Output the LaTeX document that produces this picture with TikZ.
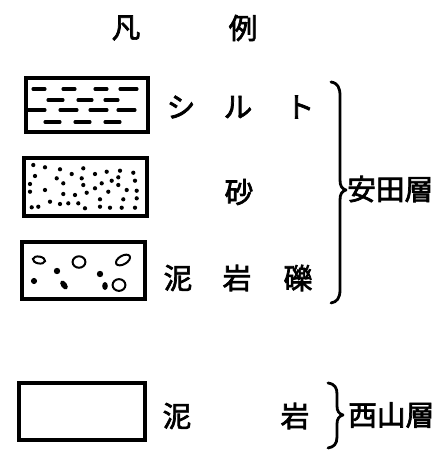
\documentclass[tikz,border=0pt]{standalone}
\usepackage{fontspec}
\newfontfamily\jp[FakeBold=2.5]{Noto Sans CJK JP}
\begin{document}
\begin{tikzpicture}[x=0.75pt,y=-0.75pt,
  lbl/.style={inner sep=0pt,font=\jp\fontsize{21.5}{24}\selectfont},
  boxline/.style={line width=2.5pt},
  bracel/.style={line width=2.1pt,line cap=round,line join=round},
  dash1/.style={line width=2.3pt,line cap=round},
  peb/.style={line width=1.5pt}]
\useasboundingbox (0,0) rectangle (439,451);
% title
\node[lbl] (t1) at (126,28) {凡};
\node[lbl] (t2) at (243,28) {例};
% boxes
\draw[boxline] (26,78) rectangle (148,132);
\draw[boxline] (24,158) rectangle (147,216);
\draw[boxline] (22,242) rectangle (145,299);
\draw[boxline] (19,383) rectangle (145,440);
% silt dashes
\foreach \a/\b/\y in {33/45/89,63/75/89,95/107/89,120/137/89,
  48/63/100,78/92/100,105/118/100,
  28/45/110,60/77/110,90/107/110,118/135/110,
  45/60/122,75/90/122,105/120/122}
  \draw[dash1] (\a,\y) -- (\b,\y);
% sand dots
\foreach \p in {(33.3,165),(45,167.3),(60,169.3),(83.3,168.3),(71.7,174),(95,174),(106.7,171.7),(120,170.7),(133.3,172.7),
 (35,176),(56.7,178.3),(81.7,178.3),(118.3,177.3),(63.3,183.3),(83.3,185),(101.7,183.3),(111.7,180.7),(135,180.7),
 (30,184),(30,191.7),(45,190),(63.3,194),(75,195),(86.7,192.7),(95,188.3),(108.3,191.7),(126.7,190),(136.7,190.7),(118.3,185),
 (50,201.7),(60,204),(68.3,203.3),(78.3,203.3),(100,199.3),(123.3,199.3),(136.7,198.3),
 (31.7,207.3),(38.3,206.7),(85,208.3),(100,206.7),(110,207.7),(121.7,207.7),(135,207.7)}
  \fill \p circle (1.6pt);
% gravel
\draw[peb,rotate around={-10:(39,260)}] (39,260) ellipse [x radius=4.6pt, y radius=2.6pt];
\draw[peb] (79,262) ellipse [x radius=4.8pt, y radius=4.3pt];
\draw[peb,rotate around={30:(123,260)}] (123,260) ellipse [x radius=5.8pt, y radius=3.2pt];
\draw[peb] (119,285) ellipse [x radius=4.8pt, y radius=4.4pt];
\fill (57,271) circle (2.4pt);
\fill (34,281) circle (2.3pt);
\fill (100,274) circle (2.4pt);
\fill[rotate around={-55:(64,285)}] (64,285) ellipse [x radius=3.8pt, y radius=2.2pt];
\fill (105,286) ellipse [x radius=2.1pt, y radius=3pt];
% labels
\node[lbl] (s1) at (181,107) {シ};
\node[lbl] (s2) at (238,107) {ル};
\node[lbl] (s3) at (300,107) {ト};
\node[lbl] (sa) at (239,192) {砂};
\node[lbl] (g1) at (178,278) {泥};
\node[lbl] (g2) at (237,278) {岩};
\node[lbl] (g3) at (298,278) {礫};
\node[lbl] (m1) at (177,416) {泥};
\node[lbl] (m2) at (295,416) {岩};
\node[lbl,anchor=west] (f1) at (347,189) {安田層};
\node[lbl,anchor=west] (f2) at (348,415) {西山層};
% braces
\draw[bracel] (331,82) .. controls (338,83) and (340,88) .. (340,96) -- (340,180)
  .. controls (340,186) and (342,189) .. (346,190)
  .. controls (342,191) and (340,194) .. (340,200) -- (340,290)
  .. controls (340,298) and (337,302) .. (331,303);
\draw[bracel] (328,383) .. controls (335,384) and (337,388) .. (337,394) -- (337,406)
  .. controls (337,411) and (339,414) .. (343,415)
  .. controls (339,416) and (337,419) .. (337,424) -- (337,437)
  .. controls (337,444) and (334,447) .. (328,448);
\end{tikzpicture}
\end{document}
